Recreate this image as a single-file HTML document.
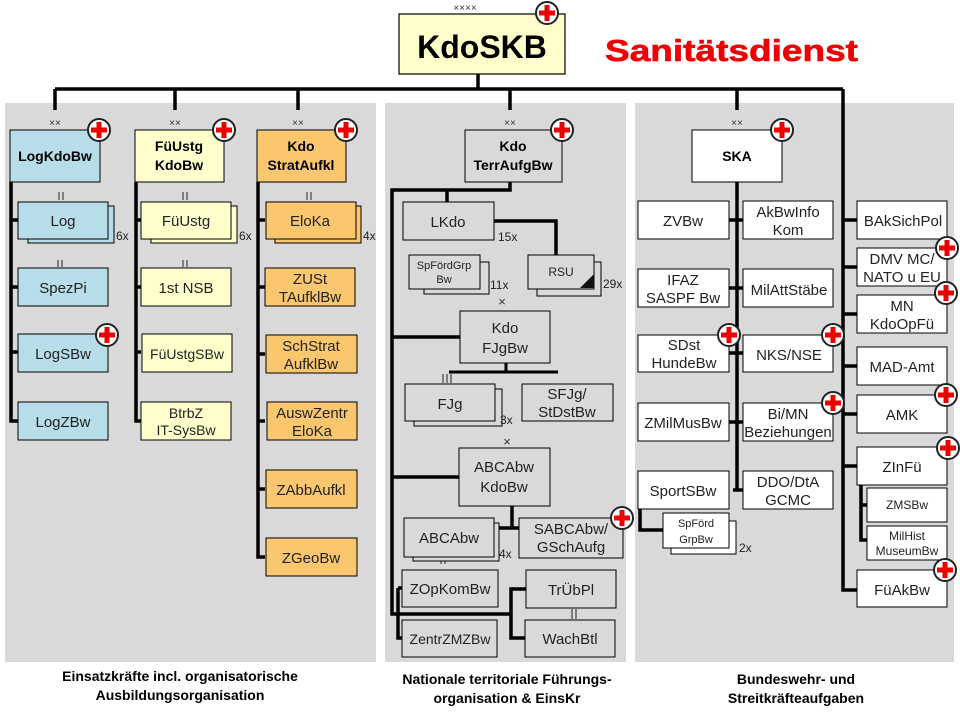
<!DOCTYPE html>
<html><head><meta charset="utf-8"><style>
html,body{margin:0;padding:0;background:#fff;}
svg{display:block;font-family:"Liberation Sans",sans-serif;}
.t{font-size:15px;fill:#222;text-anchor:middle;}
.s{font-size:12px;fill:#222;text-anchor:middle;}
.b{font-size:14px;font-weight:bold;fill:#000;text-anchor:middle;}
.n{font-size:12px;fill:#222;}
.m{font-size:11px;fill:#333;text-anchor:middle;}
</style></head><body>
<svg width="960" height="720" viewBox="0 0 960 720">
<defs>
<g id="rc"><circle r="11" fill="#fff" stroke="#222" stroke-width="2"/><rect x="-8" y="-2.5" width="16" height="5" fill="#e00"/><rect x="-2.5" y="-8" width="5" height="16" fill="#e00"/></g>
</defs>
<rect x="5" y="103" width="371" height="559" fill="#d9d9d9"/>
<rect x="385" y="103" width="241" height="559" fill="#d9d9d9"/>
<rect x="635" y="103" width="319" height="559" fill="#d9d9d9"/>

<rect x="399" y="14" width="166" height="60" fill="#ffffcc" stroke="#000" stroke-width="1.2"/>
<text x="482" y="58" style="font-size:32px;font-weight:bold;text-anchor:middle;fill:#000">KdoSKB</text>
<text x="465" y="11" class="m" style="font-size:10px">××××</text>
<text x="605" y="61" textLength="253" lengthAdjust="spacingAndGlyphs" style="font-size:31px;font-weight:bold;fill:#e00;stroke:#e00;stroke-width:0.6">Sanitätsdienst</text>

<g stroke="#000" stroke-width="3.5" fill="none">
<path d="M478 74V89M55 89H843M843 89V590H857"/>
<path d="M55 89V110M175 89V110M298 89V110M510 89V110M737 89V110"/>
<path d="M11 182V421H18M11 220H18M11 287H18M11 352H18"/>
<path d="M136 182V421H141M136 220H141M136 287H141M136 352H141"/>
<path d="M258 182V557H265M258 220H265M258 287H265M258 354H265M258 421H265M258 489H265"/>
<path d="M510 182V190H392V614H510M447 190V202M494 221H556V255M392 337H460M392 477H459"/>
<path d="M506 363V372M449 372H558" stroke-width="3"/>
<path d="M512 506V528M494 528H519"/>
<path d="M398 588V638H402M398 588H402M511 614V589H526M511 614V638H525"/>
<path d="M737 182V490M729 220H743M729 288H743M729 353H743M729 422H743M733 490H743"/>
<path d="M640 509V530H663"/>
<path d="M843 220H857M843 267H857M843 314H857M843 366H857M843 414H857M843 466H857M861 485V540H867M861 505H867"/>
</g>

<g class="m" style="font-size:10px">
<text x="55" y="126">××</text><text x="175" y="126">××</text><text x="298" y="126">××</text>
<text x="510" y="126">××</text><text x="737" y="126">××</text>
</g>
<g stroke="#222" stroke-width="1">
<path d="M59 192V200M63 192V200M183 192V200M187 192V200M307 192V200M311 192V200"/>
<path d="M58 260V267M62 260V267M183 260V267M187 260V267"/>
<path d="M441 558V564M445 558V564"/>
<path d="M443 374V383M447 374V383M451 374V383"/>
<path d="M572 609V619M576 609V619"/>
</g>
<text x="502" y="306" class="m" style="font-size:13px">×</text>
<text x="507" y="446" class="m" style="font-size:13px">×</text>

<rect x="10" y="130" width="90" height="52" fill="#b7dde8" stroke="#000"/>
<text x="55" y="161" class="b">LogKdoBw</text>
<rect x="135" y="130" width="89" height="52" fill="#ffffcc" stroke="#000"/>
<text x="179" y="151" class="b">FüUstg</text><text x="179" y="170" class="b">KdoBw</text>
<rect x="257" y="130" width="89" height="52" fill="#fac66e" stroke="#000"/>
<text x="301" y="151" class="b">Kdo</text><text x="301" y="170" class="b">StratAufkl</text>
<rect x="465" y="130" width="97" height="52" fill="#d9d9d9" stroke="#000"/>
<text x="513" y="151" class="b">Kdo</text><text x="513" y="170" class="b">TerrAufgBw</text>
<rect x="692" y="130" width="90" height="52" fill="#fff" stroke="#000"/>
<text x="737" y="161" class="b">SKA</text>

<g stroke="#000" stroke-width="1">
<rect x="28" y="206" width="86" height="37" fill="#b7dde8"/>
<rect x="18" y="202" width="90" height="37" fill="#b7dde8"/>
<rect x="18" y="268" width="90" height="38" fill="#b7dde8"/>
<rect x="18" y="334" width="90" height="38" fill="#b7dde8"/>
<rect x="18" y="402" width="90" height="38" fill="#b7dde8"/>
<rect x="151" y="206" width="86" height="37" fill="#ffffcc"/>
<rect x="141" y="202" width="90" height="37" fill="#ffffcc"/>
<rect x="141" y="268" width="90" height="38" fill="#ffffcc"/>
<rect x="142" y="334" width="90" height="38" fill="#ffffcc"/>
<rect x="141" y="402" width="90" height="38" fill="#ffffcc"/>
<rect x="275" y="206" width="86" height="37" fill="#fac66e"/>
<rect x="266" y="202" width="90" height="37" fill="#fac66e"/>
<rect x="265" y="268" width="90" height="38" fill="#fac66e"/>
<rect x="266" y="335" width="91" height="38" fill="#fac66e"/>
<rect x="267" y="402" width="90" height="38" fill="#fac66e"/>
<rect x="266" y="470" width="91" height="38" fill="#fac66e"/>
<rect x="266" y="538" width="91" height="38" fill="#fac66e"/>
</g>
<text x="63" y="226" class="t">Log</text>
<text x="63" y="293" class="t">SpezPi</text>
<text x="63" y="359" class="t">LogSBw</text>
<text x="63" y="427" class="t">LogZBw</text>
<text x="186" y="226" class="t">FüUstg</text>
<text x="186" y="293" class="t">1st NSB</text>
<text x="187" y="359" class="t" style="font-size:14px">FüUstgSBw</text>
<text x="186" y="418" class="t" style="font-size:14px">BtrbZ</text><text x="186" y="435" class="t" style="font-size:14px">IT-SysBw</text>
<text x="310" y="226" class="t">EloKa</text>
<text x="310" y="284" class="t">ZUSt</text><text x="310" y="302" class="t">TAufklBw</text>
<text x="311" y="351" class="t">SchStrat</text><text x="311" y="369" class="t">AufklBw</text>
<text x="312" y="418" class="t">AuswZentr</text><text x="312" y="436" class="t">EloKa</text>
<text x="311" y="495" class="t">ZAbbAufkl</text>
<text x="311" y="563" class="t">ZGeoBw</text>
<text x="116" y="240" class="n">6x</text>
<text x="239" y="240" class="n">6x</text>
<text x="363" y="240" class="n">4x</text>

<g stroke="#000" stroke-width="1" fill="#d9d9d9">
<rect x="403" y="202" width="91" height="38" />
<rect x="424" y="262" width="65" height="32"/>
<rect x="409" y="255" width="71" height="34"/>
<rect x="537" y="262" width="64" height="34"/>
<rect x="528" y="255" width="66" height="34"/>
<rect x="460" y="311" width="90" height="52"/>
<rect x="414" y="389" width="88" height="37"/>
<rect x="405" y="384" width="90" height="37"/>
<rect x="522" y="384" width="91" height="37"/>
<rect x="459" y="448" width="91" height="58"/>
<rect x="413" y="523" width="86" height="38"/>
<rect x="404" y="518" width="90" height="39"/>
<rect x="519" y="518" width="104" height="40"/>
<rect x="402" y="570" width="96" height="37"/>
<rect x="402" y="620" width="95" height="37"/>
<rect x="526" y="570" width="90" height="38"/>
<rect x="525" y="620" width="90" height="37"/>
</g>
<path d="M594 274V288H580Z" fill="#111"/>
<text x="448" y="227" class="t">LKdo</text>
<text x="444" y="269" class="s" style="font-size:11px">SpFördGrp</text><text x="444" y="283" class="s" style="font-size:11px">Bw</text>
<text x="561" y="276" class="s">RSU</text>
<text x="505" y="333" class="t">Kdo</text><text x="505" y="353" class="t">FJgBw</text>
<text x="450" y="409" class="t">FJg</text>
<text x="567" y="399" class="t">SFJg/</text><text x="567" y="417" class="t">StDstBw</text>
<text x="504" y="472" class="t">ABCAbw</text><text x="504" y="492" class="t">KdoBw</text>
<text x="449" y="543" class="t">ABCAbw</text>
<text x="571" y="534" class="t">SABCAbw/</text><text x="571" y="552" class="t">GSchAufg</text>
<text x="450" y="594" class="t">ZOpKomBw</text>
<text x="450" y="644" class="t" style="font-size:14px">ZentrZMZBw</text>
<text x="571" y="595" class="t">TrÜbPl</text>
<text x="570" y="644" class="t">WachBtl</text>
<text x="498" y="241" class="n">15x</text>
<text x="490" y="289" class="n">11x</text>
<text x="603" y="288" class="n">29x</text>
<text x="500" y="424" class="n">3x</text>
<text x="499" y="558" class="n">4x</text>

<g stroke="#000" stroke-width="1" fill="#fff">
<rect x="638" y="201" width="91" height="38"/><rect x="743" y="201" width="90" height="38"/>
<rect x="638" y="269" width="91" height="38"/><rect x="743" y="269" width="90" height="38"/>
<rect x="638" y="335" width="91" height="37"/><rect x="743" y="335" width="90" height="37"/>
<rect x="638" y="403" width="91" height="38"/><rect x="743" y="403" width="90" height="38"/>
<rect x="638" y="471" width="91" height="38"/><rect x="743" y="471" width="90" height="38"/>
<rect x="671" y="521" width="65" height="33"/>
<rect x="663" y="513" width="66" height="35"/>
<rect x="857" y="201" width="90" height="38"/>
<rect x="857" y="248" width="90" height="38"/>
<rect x="857" y="295" width="90" height="38"/>
<rect x="857" y="347" width="90" height="38"/>
<rect x="857" y="395" width="90" height="38"/>
<rect x="857" y="447" width="90" height="38"/>
<rect x="867" y="488" width="80" height="34"/>
<rect x="867" y="526" width="80" height="34"/>
<rect x="857" y="570" width="90" height="37"/>
</g>
<text x="683" y="226" class="t">ZVBw</text>
<text x="788" y="217" class="t">AkBwInfo</text><text x="788" y="235" class="t">Kom</text>
<text x="683" y="285" class="t">IFAZ</text><text x="683" y="303" class="t">SASPF Bw</text>
<text x="789" y="295" class="t">MilAttStäbe</text>
<text x="684" y="350" class="t">SDst</text><text x="684" y="368" class="t">HundeBw</text>
<text x="789" y="360" class="t">NKS/NSE</text>
<text x="683" y="428" class="t">ZMilMusBw</text>
<text x="788" y="419" class="t">Bi/MN</text><text x="788" y="437" class="t">Beziehungen</text>
<text x="683" y="496" class="t">SportSBw</text>
<text x="788" y="487" class="t">DDO/DtA</text><text x="788" y="505" class="t">GCMC</text>
<text x="696" y="527" class="s" style="font-size:11px">SpFörd</text><text x="696" y="543" class="s" style="font-size:11px">GrpBw</text>
<text x="739" y="552" class="n">2x</text>
<text x="903" y="226" class="t">BAkSichPol</text>
<text x="902" y="264" class="t">DMV MC/</text><text x="902" y="282" class="t">NATO u EU</text>
<text x="902" y="311" class="t">MN</text><text x="902" y="329" class="t">KdoOpFü</text>
<text x="902" y="372" class="t">MAD-Amt</text>
<text x="902" y="420" class="t">AMK</text>
<text x="902" y="472" class="t">ZInFü</text>
<text x="907" y="509" class="s">ZMSBw</text>
<text x="907" y="540" class="s">MilHist</text><text x="907" y="555" class="s">MuseumBw</text>
<text x="902" y="595" class="t">FüAkBw</text>

<use href="#rc" x="547" y="13"/>
<use href="#rc" x="99" y="130"/>
<use href="#rc" x="224" y="130"/>
<use href="#rc" x="346" y="130"/>
<use href="#rc" x="562" y="130"/>
<use href="#rc" x="782" y="130"/>
<use href="#rc" x="107" y="335"/>
<use href="#rc" x="622" y="518"/>
<use href="#rc" x="729" y="335"/>
<use href="#rc" x="833" y="335"/>
<use href="#rc" x="833" y="403"/>
<use href="#rc" x="947" y="248"/>
<use href="#rc" x="946" y="293"/>
<use href="#rc" x="946" y="395"/>
<use href="#rc" x="948" y="448"/>
<use href="#rc" x="945" y="570"/>

<text x="180" y="681" class="b">Einsatzkräfte incl. organisatorische</text>
<text x="180" y="700" class="b">Ausbildungsorganisation</text>
<text x="507" y="684" class="b">Nationale territoriale Führungs-</text>
<text x="507" y="703" class="b">organisation &amp; EinsKr</text>
<text x="796" y="684" class="b">Bundeswehr- und</text>
<text x="796" y="703" class="b">Streitkräfteaufgaben</text>
</svg>
</body></html>
